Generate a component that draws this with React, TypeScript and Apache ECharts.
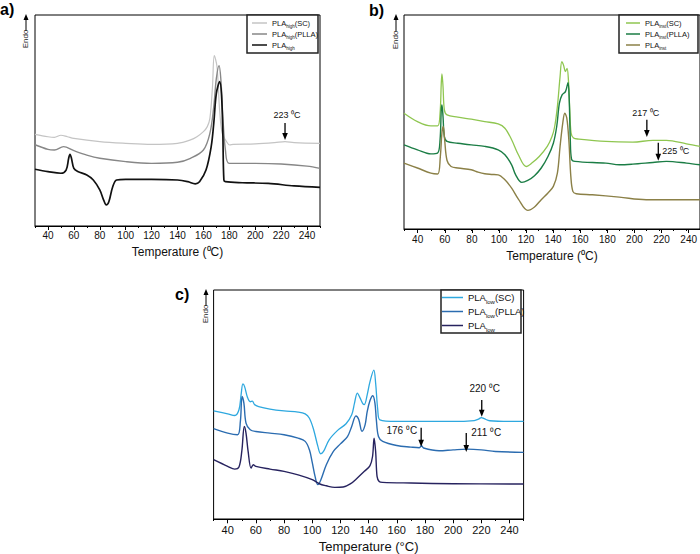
import React, { useEffect, useRef } from 'react';
import * as echarts from 'echarts';

type Pt = [number, number];

// ---------- axis ticks ----------
const X_MIN = 30;
const X_MAX = 250;
const X_MINOR_STEP = 10;
const X_LABEL_MIN = 40;
const X_LABEL_MAX = 240;
const X_LABEL_STEP = 20;

// ---------- panel a) PLA_high ----------
const highSC: Pt[] = [
  [30, 43.4], [40, 42.3], [45, 42.0], [50, 43.0], [55, 42.3], [60, 41.5], [80, 40.0], [100, 39.2],
  [120, 38.7], [140, 39.2], [150, 40.8], [155, 42.3], [160, 44.7], [163, 47.1], [165, 51.0],
  [167, 66.0], [168.4, 80.7], [170.5, 75.5], [172.5, 55.0], [174.5, 43.9], [177.5, 40.4],
  [180.3, 38.4], [183, 38.7], [200, 38.9], [215, 39.5], [223, 40.0], [230, 39.5], [250, 39.2],
];
const highPLLA: Pt[] = [
  [30, 38.5], [40, 36.3], [45, 36.0], [52, 37.6], [60, 35.7], [70, 33.6], [80, 32.1], [100, 30.5],
  [120, 29.7], [140, 30.2], [150, 32.1], [160, 36.0], [165, 43.9], [168, 56.6], [170, 70.0],
  [172.1, 76.0], [173.5, 69.2], [175, 51.8], [177, 36.0], [180, 29.7], [200, 29.7], [220, 29.4],
  [240, 28.4], [250, 27.3],
];
const highBase: Pt[] = [
  [30, 26.9], [40, 25.8], [50, 25.0], [54, 26.5], [56, 32.1], [57, 34.0], [58, 32.5], [60, 27.3],
  [63, 25.8], [70, 24.2], [75, 21.8], [80, 17.1], [83, 12.3], [85, 10.0], [87, 11.5], [90, 18.6],
  [93, 21.8], [100, 22.1], [120, 22.1], [140, 21.8], [148, 21.0], [153.7, 20.0], [157, 21.0],
  [162, 26.5], [166, 37.6], [168, 48.7], [170, 62.9], [172.6, 68.4], [174, 62.0], [175, 43.9],
  [175.8, 21.8], [177, 21.0], [190, 20.5], [210, 20.2], [230, 19.0], [250, 18.3],
];

// ---------- panel b) PLA_inst ----------
const instSC: Pt[] = [
  [30, 54.1], [40, 50.2], [50, 48.2], [55, 48.2], [56.8, 54.1], [57.7, 68.1], [58.2, 72.5],
  [59, 66.6], [60, 55.7], [62, 53.3], [70, 52.3], [80, 51.3], [90, 50.2], [100, 49.1], [105, 47.1],
  [110, 41.7], [115, 34.7], [120.8, 29.2], [125, 30.8], [130.5, 33.9], [136.5, 38.6], [140, 43.2],
  [142, 47.9], [144, 57.2], [146, 71.2], [147.3, 78.2], [148.5, 76.7], [150, 73.6], [151.2, 75.1],
  [152.2, 69.7], [153.2, 55.7], [154.2, 44.8], [156, 42.5], [160, 42.0], [180, 40.9], [200, 40.6],
  [215, 41.4], [225, 41.4], [240, 39.8], [250, 38.6],
];
const instPLLA: Pt[] = [
  [30, 39.3], [40, 37.0], [50, 35.1], [55, 35.5], [56.8, 41.7], [57.7, 55.7], [58.2, 58.0],
  [59, 52.6], [60, 43.2], [62, 40.9], [70, 40.1], [80, 39.3], [90, 38.6], [100, 37.0], [105, 34.7],
  [110, 30.0], [113, 25.3], [117.5, 21.8], [122, 22.7], [127, 24.9], [132, 28.5], [137, 33.9],
  [141, 40.1], [143.5, 47.9], [145.5, 58.8], [147.5, 62.7], [150, 64.2], [151.9, 68.4],
  [152.8, 60.3], [153.6, 41.7], [154.5, 32.7], [157, 31.6], [180, 30.8], [190, 30.0], [200, 30.3],
  [215, 31.1], [225, 31.6], [240, 30.8], [250, 30.0],
];
const instBase: Pt[] = [
  [30, 30.8], [40, 28.5], [50, 26.1], [55, 25.7], [57, 33.8], [58.2, 45.0], [59.2, 47.9],
  [60.2, 41.7], [62, 32.0], [65, 29.2], [70, 28.5], [80, 27.7], [85, 26.6], [90, 25.8], [95, 25.5],
  [100, 25.3], [105, 23.0], [110, 19.1], [115, 14.0], [122, 8.7], [127, 10.3], [132, 13.7],
  [137, 16.8], [141, 19.9], [144, 26.1], [146, 38.6], [148, 49.5], [149.5, 54.1], [151, 51.8],
  [152.5, 41.7], [154, 24.6], [155.5, 17.6], [158, 16.5], [170, 16.0], [190, 14.9], [210, 13.7],
  [250, 13.7],
];

// ---------- panel c) PLA_low ----------
const lowSC: Pt[] = [
  [30, 47.2], [40, 45.9], [45, 45.2], [48, 47.7], [49.5, 54.2], [50.8, 59.0], [52, 57.8],
  [54, 53.2], [56, 51.2], [57.5, 51.5], [59, 50.0], [62, 49.1], [70, 48.0], [80, 47.2], [90, 46.7],
  [95, 45.9], [98, 44.0], [101, 39.0], [104, 31.7], [106, 28.5], [108, 29.5], [112, 34.6],
  [118, 38.7], [124, 41.6], [128, 45.5], [130, 50.6], [132, 55.0], [134, 52.8], [136, 50.3],
  [137, 50.0], [139, 54.2], [141, 60.0], [143.7, 65.0], [145, 59.3], [146.5, 47.7], [148, 43.3],
  [160, 42.6], [180, 42.6], [200, 42.6], [215, 43.0], [218, 43.6], [220, 44.3], [222, 43.8],
  [226, 42.9], [240, 42.6], [250, 42.6],
];
const lowPLLA: Pt[] = [
  [30, 39.5], [40, 37.5], [47, 36.8], [49, 42.6], [50.2, 53.5], [51.5, 50.6], [53, 41.9],
  [56, 39.0], [60, 38.2], [70, 37.5], [80, 36.8], [90, 35.3], [95, 33.9], [98, 30.2], [100, 24.7],
  [102, 18.6], [104, 15.0], [106, 16.9], [110, 23.7], [115, 29.5], [120, 32.8], [125, 36.0],
  [128, 40.4], [131, 45.0], [133, 43.5], [135.3, 38.3], [137.5, 41.1], [139, 46.9], [141, 51.7],
  [143, 53.8], [144.5, 50.6], [145.5, 43.3], [147, 36.0], [150, 33.9], [160, 32.1], [170, 31.4],
  [176, 31.1], [177.5, 32.0], [179, 31.0], [190, 29.8], [200, 30.2], [210, 30.5], [220, 30.2],
  [230, 29.5], [250, 29.1],
];
const lowBase: Pt[] = [
  [30, 25.9], [40, 23.0], [45, 21.8], [48, 22.7], [50, 29.5], [51.8, 40.4], [53, 37.5],
  [54.5, 29.5], [56.6, 22.2], [58.2, 23.7], [60, 23.0], [70, 21.8], [80, 20.8], [90, 19.3],
  [100, 17.2], [105, 15.4], [110, 14.5], [116, 13.8], [122, 14.0], [127, 15.3], [132, 17.9],
  [137, 20.8], [141, 23.3], [142.8, 27.3], [143.9, 35.3], [145, 29.5], [146, 18.6], [147.5, 16.4],
  [150, 16.0], [170, 15.7], [200, 15.4], [250, 15.3],
];

// ---------- series names / colours ----------
const namesA = ['PLA_high(SC)', 'PLA_high(PLLA)', 'PLA_high'];
const namesB = ['PLA_inst(SC)', 'PLA_inst(PLLA)', 'PLA_inst'];
const namesC = ['PLA_low(SC)', 'PLA_low(PLLA)', 'PLA_low'];
const dataA = [highSC, highPLLA, highBase];
const dataB = [instSC, instPLLA, instBase];
const dataC = [lowSC, lowPLLA, lowBase];
const colorsA = ['#c4c4c4', '#878787', '#111111'];
const colorsB = ['#8fc650', '#1b7d45', '#8b8047'];
const colorsC = ['#2ea8df', '#2b6cb0', '#27235f'];
const widthsA = [1.2, 1.4, 1.7];
const widthsB = [1.3, 1.4, 1.4];
const widthsC = [1.3, 1.4, 1.4];

// annotations
const annPanel = [0, 1, 1, 2, 2, 2];
const annX = [223, 210.5, 219, 220.3, 177.3, 209.3];
const annTop = [48.8, 51, 40.3, 52, 39.8, 37.6];
const annBottom = [40.8, 43, 31.9, 44.6, 31.5, 29.3];
const annLabel = ['223 \u2070C', '217 \u2070C', '225 \u2070C', '220 \u2070C', '176 \u2070C', '211 \u2070C'];

const annAlign = ['center', 'center', 'left', 'center', 'right', 'left'];
const annDx = [2, -1, 4, 3, -4, 5];
const annDy = [-8, -7, 8, -11, 3, 0];

const SANS = "'Liberation Sans', Arial, sans-serif";

const panels = [
  {
    grid: { left: 35, top: 15, width: 285, height: 211 },
    names: namesA, data: dataA, colors: colorsA, widths: widthsA,
    xName: 'Temperature (\u2070C)', tickFont: 10, nameFont: 12, nameGap: 20, labelMargin: 4,
    legend: { left: 252, top: 17.5, itemWidth: 15, font: 7.5, sub: 4.5, lh: 11 },
    box: { x: 247, y: 15, w: 71, h: 38 },
    title: { text: 'a)', x: 0, y: 1 },
    endo: { x: 26, y0: 14, textY: 39, font: 8 },
  },
  {
    grid: { left: 404, top: 15, width: 301, height: 214 },
    names: namesB, data: dataB, colors: colorsB, widths: widthsB,
    xName: 'Temperature (\u2070C)', tickFont: 10, nameFont: 12, nameGap: 21, labelMargin: 5,
    legend: { left: 626, top: 17.5, itemWidth: 14, font: 7.5, sub: 4.5, lh: 11 },
    box: { x: 619, y: 15, w: 79, h: 38 },
    title: { text: 'b)', x: 369, y: 2 },
    endo: { x: 396, y0: 14, textY: 40, font: 8 },
  },
  {
    grid: { left: 213.6, top: 290, width: 310, height: 229.3 },
    names: namesC, data: dataC, colors: colorsC, widths: widthsC,
    xName: 'Temperature (\u00b0C)', tickFont: 11, nameFont: 13, nameGap: 21, labelMargin: 5,
    legend: { left: 442, top: 290.5, itemWidth: 21, font: 9.5, sub: 6, lh: 14 },
    box: { x: 441, y: 290, w: 80, h: 43 },
    title: { text: 'c)', x: 175, y: 286 },
    endo: { x: 206, y0: 289, textY: 314, font: 8 },
  },
];

function buildOption(): any {
  const grid: any[] = [];
  const xAxis: any[] = [];
  const yAxis: any[] = [];
  const series: any[] = [];
  const legend: any[] = [];
  panels.forEach((p, i) => {
    grid.push({ ...p.grid, show: true, borderColor: '#000', borderWidth: 1, containLabel: false });
    xAxis.push({
      gridIndex: i, type: 'value', min: X_MIN, max: X_MAX, interval: X_MINOR_STEP,
      axisLine: { show: true, lineStyle: { color: '#000', width: 1 } },
      axisTick: { show: true, length: 2, lineStyle: { color: '#000', width: 1 } },
      axisLabel: { show: false },
      splitLine: { show: false },
      name: p.xName, nameLocation: 'middle', nameGap: p.nameGap,
      nameTextStyle: { fontSize: p.nameFont, color: '#111', fontFamily: SANS },
    });
    yAxis.push({
      gridIndex: i, type: 'value', min: 0, max: 100,
      axisLine: { show: false }, axisTick: { show: false }, axisLabel: { show: false },
      splitLine: { show: false },
    });
    p.names.forEach((n, k) => {
      series.push({
        type: 'line', name: n, xAxisIndex: i, yAxisIndex: i, data: p.data[k],
        showSymbol: false, symbol: 'none', smooth: 0.35,
        color: p.colors[k],
        lineStyle: { color: p.colors[k], width: p.widths[k], join: 'round' },
        z: 2,
      });
    });
    legend.push({
      data: p.names, orient: 'vertical', left: p.legend.left, top: p.legend.top,
      icon: 'rect', itemWidth: p.legend.itemWidth, itemHeight: 1.5, itemGap: 0, padding: 0,
      selectedMode: false, z: 10,
      formatter: (name: string) => name.replace(/_([a-z]+)/, '{sub|$1}'),
      textStyle: {
        fontSize: p.legend.font, lineHeight: p.legend.lh, color: '#111', fontFamily: SANS,
        rich: { sub: { fontSize: p.legend.sub, verticalAlign: 'bottom', lineHeight: p.legend.lh, fontFamily: SANS, color: '#111' } },
      },
    });
  });
  // overlay grids carrying the labelled major ticks (40..240), aligned to the same scale
  panels.forEach((p, i) => {
    const pxPerUnit = p.grid.width / (X_MAX - X_MIN);
    grid.push({
      left: p.grid.left + (X_LABEL_MIN - X_MIN) * pxPerUnit,
      top: p.grid.top,
      width: (X_LABEL_MAX - X_LABEL_MIN) * pxPerUnit,
      height: p.grid.height,
      show: false,
    });
    const gi = panels.length + i;
    xAxis.push({
      gridIndex: gi, type: 'value', min: X_LABEL_MIN, max: X_LABEL_MAX, interval: X_LABEL_STEP,
      axisLine: { show: false },
      axisTick: { show: true, length: 4, lineStyle: { color: '#000', width: 1 } },
      axisLabel: { color: '#111', fontSize: p.tickFont, margin: p.labelMargin, fontFamily: SANS },
      splitLine: { show: false },
    });
    yAxis.push({ gridIndex: gi, type: 'value', min: 0, max: 100, show: false });
  });
  return { animation: false, backgroundColor: '#fff', grid, xAxis, yAxis, series, legend };
}

function staticGraphics(): any[] {
  const g: any[] = [];
  panels.forEach((p) => {
    g.push({
      type: 'rect', shape: { x: p.box.x, y: p.box.y, width: p.box.w, height: p.box.h }, z: 8,
      style: { fill: '#fff', stroke: '#222', lineWidth: 1.5 },
    });
    g.push({
      type: 'text', x: p.title.x, y: p.title.y, z: 10,
      style: { text: p.title.text, fontSize: 16, fontWeight: 'bold', fill: '#000', fontFamily: SANS, verticalAlign: 'top', align: 'left' },
    });
    const e = p.endo;
    g.push({ type: 'line', shape: { x1: e.x, y1: e.y0 + 17, x2: e.x, y2: e.y0 + 4 }, style: { stroke: '#000', lineWidth: 1 }, z: 10 });
    g.push({ type: 'polygon', shape: { points: [[e.x, e.y0], [e.x - 2.5, e.y0 + 6], [e.x + 2.5, e.y0 + 6]] }, style: { fill: '#000' }, z: 10 });
    g.push({
      type: 'text', x: e.x - 1, y: e.textY, rotation: Math.PI / 2, z: 10,
      style: { text: 'Endo', fontSize: e.font, fill: '#222', fontFamily: SANS, align: 'center', verticalAlign: 'middle' },
    });
  });
  return g;
}

export default function App() {
  const ref = useRef<HTMLDivElement>(null);
  useEffect(() => {
    const el = ref.current as HTMLDivElement;
    const chart = echarts.init(el, null, { renderer: 'svg' });
    chart.setOption(buildOption());
    const g = staticGraphics();
    annX.forEach((x, i) => {
      const pi = annPanel[i];
      const top = chart.convertToPixel({ xAxisIndex: pi, yAxisIndex: pi } as any, [x, annTop[i]]) as number[];
      const bot = chart.convertToPixel({ xAxisIndex: pi, yAxisIndex: pi } as any, [x, annBottom[i]]) as number[];
      g.push({ type: 'line', shape: { x1: top[0], y1: top[1], x2: bot[0], y2: bot[1] - 5 }, style: { stroke: '#000', lineWidth: 1.3 }, z: 10 });
      g.push({ type: 'polygon', shape: { points: [[bot[0], bot[1]], [bot[0] - 2.8, bot[1] - 7], [bot[0] + 2.8, bot[1] - 7]] }, style: { fill: '#000' }, z: 10 });
      g.push({
        type: 'text', x: top[0] + annDx[i], y: top[1] + annDy[i], z: 10,
        style: { text: annLabel[i], fontSize: pi === 2 ? 10 : 9, fill: '#111', fontFamily: SANS, align: annAlign[i], verticalAlign: 'middle' },
      });
    });
    chart.setOption({ graphic: g });
    return () => chart.dispose();
  }, []);
  return <div ref={ref} style={{ position: 'absolute', left: 0, top: 0, width: 700, height: 554 }} />;
}
